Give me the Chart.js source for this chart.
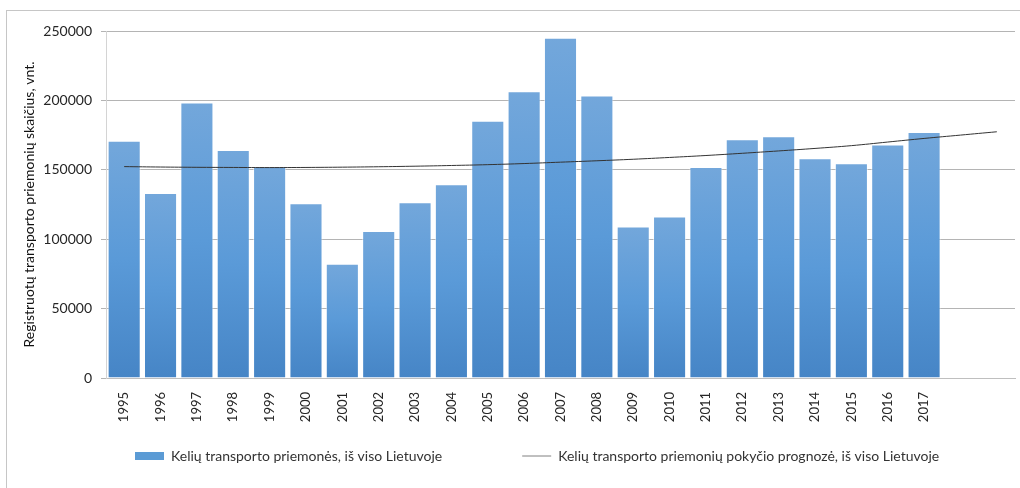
<!DOCTYPE html>
<html>
<head>
<meta charset="utf-8">
<script src="https://cdn.jsdelivr.net/npm/chart.js@4.4.1/dist/chart.umd.min.js"></script>
<style>
  html, body { margin: 0; padding: 0; background: #fff; overflow: hidden; }
  #wrap { position: relative; width: 1020px; height: 488px; overflow: hidden; }
  #frame {
    position: absolute; left: 6px; top: 10px; width: 1100px; height: 600px;
    border-left: 1px solid #c6c6c6; border-top: 1px solid #c6c6c6;
  }
  #chart { position: absolute; left: 0; top: 0; }
</style>
</head>
<body>
<div id="wrap">
  <div id="frame"></div>
  <canvas id="chart" width="1020" height="488"></canvas>
</div>
<script>
// categories (two empty slots at the end where only the forecast line continues)
const years = ["1995", "1996", "1997", "1998", "1999", "2000", "2001", "2002",
  "2003", "2004", "2005", "2006", "2007", "2008", "2009", "2010", "2011",
  "2012", "2013", "2014", "2015", "2016", "2017", "", ""];

// registered road vehicles, total in Lithuania
const vehicles = [171000, 133300, 198400, 164300, 152500, 125900, 82400, 105900,
  126600, 139600, 185400, 206600, 245200, 203500, 109100, 116300, 152000,
  172000, 174100, 158300, 154700, 168200, 177200];

// forecast (trend) line
const forecast = [152300, 152000, 151800, 151700, 151600, 151700, 151900, 152200,
  152600, 153100, 153700, 154500, 155500, 156500, 157600, 158900, 160300,
  161900, 163600, 165400, 167400, 170000, 172600, 175000, 177400];

const yTicks = [0, 50000, 100000, 150000, 200000, 250000];

const seriesNames = [
  "Kelių transporto priemonės, iš viso Lietuvoje",
  "Kelių transporto priemonių pokyčio prognozė, iš viso Lietuvoje"
];
const yTitle = "Registruotų transporto priemonių skaičius, vnt.";

const FONT = "Lato, 'Open Sans', sans-serif";
const PLOT_LEFT = 106, PLOT_BOTTOM = 378;
const LEGEND_X = 135, LEGEND_Y = 456;

// each bar gets its own top-to-bottom gradient, like the office-style fill
function barFill(ctx) {
  const chart = ctx.chart;
  if (!chart.chartArea || ctx.type !== "data") return "#5b9bd5";
  const y = chart.scales.y;
  const top = y.getPixelForValue(ctx.parsed.y);
  const bottom = y.getPixelForValue(0);
  const g = chart.ctx.createLinearGradient(0, top, 0, bottom);
  g.addColorStop(0, "#73a7db");
  g.addColorStop(0.5, "#5a9ad8");
  g.addColorStop(1, "#4685c6");
  return g;
}

// put the legend where the original has it (wide gap between the two items)
// and let the rotated year labels use the room below the axis
const legendPlace = {
  id: "legendPlace",
  afterLayout(chart) {
    const lg = chart.legend;
    if (lg && lg.lineWidths) {
      const pad = lg.options.labels.padding;
      const fs = lg.options.labels.font.size;
      const x0 = (lg.left + pad + lg.right - lg.lineWidths[0]) / 2;
      const dx = LEGEND_X - x0;
      const dy = (LEGEND_Y - pad - fs / 2) - lg.top;
      lg.left += dx; lg.right += dx;
      lg.top += dy; lg.bottom += dy;
    }
    chart.scales.x.bottom = chart.height;
  }
};

const baseLabels = Chart.defaults.plugins.legend.labels.generateLabels;

new Chart(document.getElementById("chart"), {
  type: "bar",
  data: {
    labels: years,
    datasets: [
      {
        type: "bar",
        label: seriesNames[0],
        data: vehicles,
        backgroundColor: barFill,
        borderColor: "rgba(255,255,255,0.55)",
        borderWidth: 1,
        barPercentage: 0.91,
        categoryPercentage: 1,
        order: 1
      },
      {
        type: "line",
        label: seriesNames[1],
        data: forecast,
        borderColor: "#333333",
        borderWidth: 1,
        pointRadius: 0,
        tension: 0.4,
        fill: false,
        order: 0
      }
    ]
  },
  options: {
    responsive: false,
    animation: false,
    layout: { padding: { top: 31, right: 5, left: 0, bottom: 0 } },
    plugins: {
      tooltip: { enabled: false },
      legend: {
        position: "bottom",
        labels: {
          font: { family: FONT, size: 14 },
          color: "#333333",
          padding: 80,
          usePointStyle: true,
          pointStyleWidth: 29,
          boxHeight: 8,
          sort: (a, b) => a.datasetIndex - b.datasetIndex,
          generateLabels(chart) {
            const items = baseLabels(chart);
            items.forEach(it => {
              if (it.datasetIndex === 0) {
                it.pointStyle = "rect";
                it.fillStyle = "#5b9bd5";
                it.strokeStyle = "#5b9bd5";
                it.lineWidth = 0;
              } else {
                it.pointStyle = "line";
                it.strokeStyle = "#808080";
                it.lineWidth = 1;
              }
            });
            return items;
          }
        }
      }
    },
    scales: {
      x: {
        offset: true,
        grid: { display: false },
        border: { display: true, color: "#bfbfbf", width: 1 },
        ticks: {
          autoSkip: false,
          maxRotation: 90,
          minRotation: 90,
          padding: 6,
          color: "#262626",
          font: { family: FONT, size: 13 }
        },
        afterFit(s) {
          const lgH = s.chart.legend ? s.chart.legend.height : 0;
          s.height = Math.max(0, s.chart.height - PLOT_BOTTOM - lgH);
        }
      },
      y: {
        min: yTicks[0],
        max: yTicks[yTicks.length - 1],
        ticks: {
          stepSize: yTicks[1] - yTicks[0],
          padding: 9,
          color: "#262626",
          font: { family: FONT, size: 14 },
          callback: v => String(v)
        },
        grid: { color: "#b4b4b4", tickLength: 5, tickColor: "#b4b4b4" },
        border: { display: true, color: "#d4d4d4", width: 1 },
        title: {
          display: true,
          text: yTitle,
          color: "#111111",
          font: { family: FONT, size: 14 },
          padding: { top: 21, bottom: 0 }
        },
        afterFit(s) { s.width = PLOT_LEFT; }
      }
    }
  },
  plugins: [legendPlace]
});
</script>
</body>
</html>
